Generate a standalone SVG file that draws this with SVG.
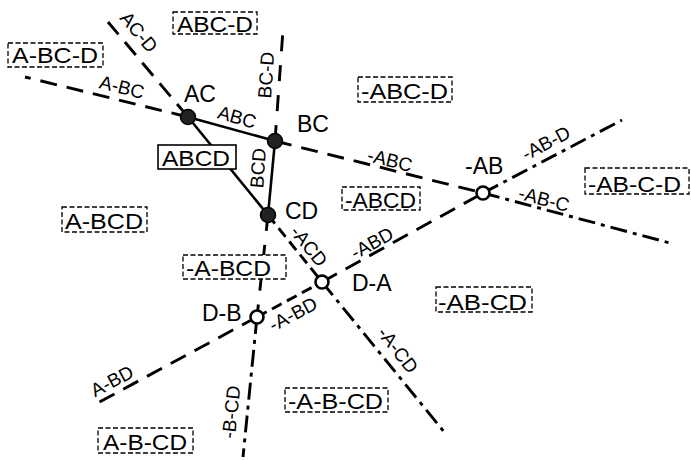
<svg xmlns="http://www.w3.org/2000/svg" width="691" height="461" viewBox="0 0 691 461">
<style>
text{font-family:"Liberation Sans",Arial,sans-serif;fill:#000}
.ln{stroke:#000;stroke-width:2.9;fill:none}
.solid{stroke-width:2.6}
.long{stroke-dasharray:17 10}
.long2{stroke-dasharray:16 14}
.med{stroke-dasharray:11 6}
.dd{stroke-dasharray:17 6 4 6}
.ll{font-size:19px}
.nl{font-size:23px}
.rl{font-size:22px}
.box{fill:#fff;stroke:#000;stroke-width:1.3;stroke-dasharray:5 2.5}
.sbox{fill:#fff;stroke:#000;stroke-width:1.6}
.fn{fill:#222;stroke:#000;stroke-width:1.5}
.on{fill:#fff;stroke:#000;stroke-width:2.6}
</style>
<g id="connectors">
<line class="ln long" x1="188" y1="117" x2="25" y2="77"/>
<line class="ln solid" x1="188" y1="117" x2="275" y2="141"/>
<line class="ln long" x1="275" y1="141" x2="483" y2="193"/>
<line class="ln dd" x1="483" y1="193" x2="670" y2="243"/>
<line class="ln long" x1="188" y1="117" x2="108" y2="22"/>
<line class="ln solid" x1="188" y1="117" x2="268" y2="215"/>
<line class="ln med" x1="268" y1="215" x2="322" y2="282"/>
<line class="ln dd" x1="322" y1="282" x2="445" y2="433"/>
<line class="ln long2" x1="275" y1="141" x2="283" y2="30"/>
<line class="ln solid" x1="275" y1="141" x2="268" y2="215"/>
<line class="ln long2" x1="268" y1="215" x2="257" y2="317"/>
<line class="ln dd" x1="257" y1="317" x2="243" y2="457"/>
<line class="ln long" x1="257" y1="317" x2="94" y2="405"/>
<line class="ln med" x1="257" y1="317" x2="322" y2="282"/>
<line class="ln long" x1="322" y1="282" x2="483" y2="193"/>
<line class="ln dd" x1="483" y1="193" x2="622" y2="120"/>
<g class="ll">
<text transform="translate(139,32) rotate(50)" text-anchor="middle" dy="0.35em">AC-D</text>
<text transform="translate(122,87) rotate(14)" text-anchor="middle" dy="0.35em">A-BC</text>
<text transform="translate(237,117) rotate(16)" text-anchor="middle" dy="0.35em">ABC</text>
<text transform="translate(266,75) rotate(-86)" text-anchor="middle" dy="0.35em">BC-D</text>
<text transform="translate(258,168) rotate(-86)" text-anchor="middle" dy="0.35em">BCD</text>
<text transform="translate(390,160) rotate(14)" text-anchor="middle" dy="0.35em">-ABC</text>
<text transform="translate(546,143) rotate(-28)" text-anchor="middle" dy="0.35em">-AB-D</text>
<text transform="translate(544,199) rotate(15)" text-anchor="middle" dy="0.35em">-AB-C</text>
<text transform="translate(309,246) rotate(51)" text-anchor="middle" dy="0.35em">-ACD</text>
<text transform="translate(372,243) rotate(-29)" text-anchor="middle" dy="0.35em">-ABD</text>
<text transform="translate(293,314) rotate(-28)" text-anchor="middle" dy="0.35em">-A-BD</text>
<text transform="translate(398,350) rotate(52)" text-anchor="middle" dy="0.35em">-A-CD</text>
<text transform="translate(112,381) rotate(-28)" text-anchor="middle" dy="0.35em">A-BD</text>
<text transform="translate(231,412) rotate(-84)" text-anchor="middle" dy="0.35em">-B-CD</text>
</g>
</g>
<g id="r-ABC-D"><rect class="box" x="173" y="12" width="84" height="22"/><text class="rl" x="177" y="31.5" textLength="76" lengthAdjust="spacingAndGlyphs">ABC-D</text></g>
<g id="r-A-BC-D"><rect class="box" x="8" y="43" width="95" height="24"/><text class="rl" x="12" y="63" textLength="86" lengthAdjust="spacingAndGlyphs">A-BC-D</text></g>
<g id="r--ABC-D"><rect class="box" x="358" y="77" width="94" height="25"/><text class="rl" x="361" y="99" textLength="87" lengthAdjust="spacingAndGlyphs">-ABC-D</text></g>
<g id="r-ABCD"><rect class="sbox" x="158" y="145" width="78" height="24"/><text class="rl" x="162" y="165.5" textLength="68" lengthAdjust="spacingAndGlyphs">ABCD</text></g>
<g id="r--ABCD"><rect class="box" x="342" y="187" width="78" height="23"/><text class="rl" x="345" y="208" textLength="71" lengthAdjust="spacingAndGlyphs">-ABCD</text></g>
<g id="r--AB-C-D"><rect class="box" x="585" y="168" width="104" height="26"/><text class="rl" x="588" y="192" textLength="93" lengthAdjust="spacingAndGlyphs">-AB-C-D</text></g>
<g id="r-A-BCD"><rect class="box" x="62" y="207" width="85" height="25"/><text class="rl" x="65" y="229" textLength="78" lengthAdjust="spacingAndGlyphs">A-BCD</text></g>
<g id="r--A-BCD"><rect class="box" x="183" y="255" width="103" height="24"/><text class="rl" x="186" y="275.5" textLength="85" lengthAdjust="spacingAndGlyphs">-A-BCD</text></g>
<g id="r--AB-CD"><rect class="box" x="436" y="287" width="96" height="25"/><text class="rl" x="438" y="309.5" textLength="89" lengthAdjust="spacingAndGlyphs">-AB-CD</text></g>
<g id="r--A-B-CD"><rect class="box" x="285" y="388" width="103" height="24"/><text class="rl" x="288" y="409" textLength="95" lengthAdjust="spacingAndGlyphs">-A-B-CD</text></g>
<g id="r-A-B-CD"><rect class="box" x="98" y="428" width="95" height="25"/><text class="rl" x="103" y="450" textLength="84" lengthAdjust="spacingAndGlyphs">A-B-CD</text></g>
<g id="n-AC"><circle class="fn" cx="188" cy="117" r="7.5"/><text class="nl" x="184" y="102">AC</text></g>
<g id="n-BC"><circle class="fn" cx="275" cy="141" r="7.5"/><text class="nl" x="297" y="132">BC</text></g>
<g id="n-CD"><circle class="fn" cx="268" cy="215" r="7.5"/><text class="nl" x="285" y="219">CD</text></g>
<g id="n--AB"><circle class="on" cx="483" cy="193" r="6.5"/><text class="nl" x="465" y="174">-AB</text></g>
<g id="n-D-A"><circle class="on" cx="322" cy="282" r="6.5"/><text class="nl" x="352" y="291">D-A</text></g>
<g id="n-D-B"><circle class="on" cx="257" cy="317" r="6.5"/><text class="nl" x="202" y="321">D-B</text></g>
</svg>
